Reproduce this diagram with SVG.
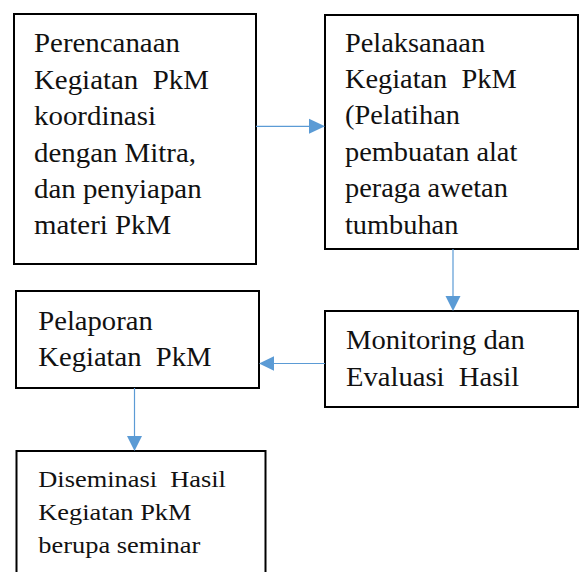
<svg xmlns="http://www.w3.org/2000/svg" width="579" height="572" viewBox="0 0 579 572">
<style>
.box{fill:#fff;stroke:#000;stroke-width:2}
.t{font-family:"Liberation Serif","Times New Roman",serif;font-size:27px;fill:#111;white-space:pre}
.s{font-family:"Liberation Serif","Times New Roman",serif;font-size:24px;fill:#111;white-space:pre}
.c{stroke:#5B9BD5;stroke-width:1.2;fill:none}
.h{fill:#5B9BD5}
</style>
<rect width="579" height="572" fill="#fff"/>
<g id="n1">
<rect class="box" x="14" y="14" width="242" height="250"/>
<g transform="translate(34,0) scale(1.07,1)">
<text class="t" xml:space="preserve"><tspan x="0" y="52.5">Perencanaan</tspan><tspan x="0" y="88.9">Kegiatan  PkM</tspan><tspan x="0" y="125.3">koordinasi</tspan><tspan x="0" y="161.7">dengan Mitra,</tspan><tspan x="0" y="198.1">dan penyiapan</tspan><tspan x="0" y="234.5">materi PkM</tspan></text>
</g>
</g>
<g id="n2">
<rect class="box" x="325" y="15" width="253" height="234"/>
<g transform="translate(345,0) scale(1.05,1)">
<text class="t" xml:space="preserve"><tspan x="0" y="51.7">Pelaksanaan</tspan><tspan x="0" y="88.1">Kegiatan  PkM</tspan><tspan x="0" y="124.5">(Pelatihan</tspan><tspan x="0" y="160.9">pembuatan alat</tspan><tspan x="0" y="197.3">peraga awetan</tspan><tspan x="0" y="233.7">tumbuhan</tspan></text>
</g>
</g>
<g id="n3">
<rect class="box" x="16" y="291" width="243" height="97"/>
<g transform="translate(38.3,0) scale(1.06,1)">
<text class="t" xml:space="preserve"><tspan x="0" y="330">Pelaporan</tspan><tspan x="0" y="366">Kegiatan  PkM</tspan></text>
</g>
</g>
<g id="n4">
<rect class="box" x="325" y="311" width="253" height="96"/>
<g transform="translate(346,0) scale(1.06,1)">
<text class="t" xml:space="preserve"><tspan x="0" y="349.3">Monitoring dan</tspan><tspan x="0" y="385.7">Evaluasi  Hasil</tspan></text>
</g>
</g>
<g id="n5">
<rect class="box" x="16.5" y="451" width="249" height="200"/>
<g transform="translate(38.3,0) scale(1.1,1)">
<text class="s" xml:space="preserve"><tspan x="0" y="487.3">Diseminasi  Hasil</tspan><tspan x="0" y="520">Kegiatan PkM</tspan><tspan x="0" y="552.7">berupa seminar</tspan></text>
</g>
</g>
<g id="connectors">
<line class="c" x1="256" y1="126.3" x2="310" y2="126.3"/>
<polygon class="h" points="325,126.3 309,118.8 309,133.8"/>
<line class="c" x1="453" y1="249" x2="453" y2="297"/>
<polygon class="h" points="453,311 445.5,296 460.5,296"/>
<line class="c" x1="325" y1="363.5" x2="273" y2="363.5"/>
<polygon class="h" points="259,363.5 274,356.3 274,370.7"/>
<line class="c" x1="134.5" y1="388" x2="134.5" y2="437"/>
<polygon class="h" points="134.5,451 127,436 142,436"/>
</g>
</svg>
